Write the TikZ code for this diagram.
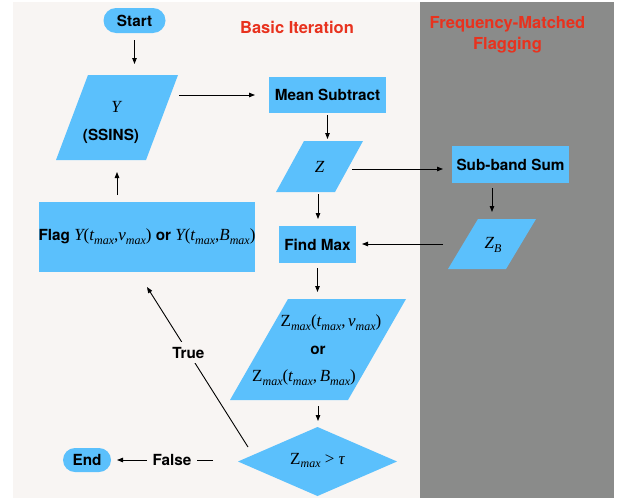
\documentclass[tikz,border=0pt]{standalone}
\usepackage{fontspec}
\setmainfont{TeX Gyre Heros}
\newfontfamily\tms{Liberation Serif}
\usetikzlibrary{shapes.geometric,arrows.meta,calc}
\definecolor{bg}{HTML}{F8F5F3}
\definecolor{panel}{HTML}{8A8B8A}
\definecolor{boxblue}{HTML}{5BC0FC}
\definecolor{titlered}{HTML}{E8321E}
\newcommand\sr{\tms\mdseries\fontsize{17}{20}\selectfont}
\newcommand\mv[1]{{\sr\itshape #1}}
\newcommand\mup[1]{{\sr\upshape #1}}
\newcommand\msub[1]{\raisebox{-0.45ex}{\tms\mdseries\itshape\fontsize{12}{12}\selectfont #1}}
\newcommand\mxsub{\msub{max}}
\newcommand\parafill[2]{\fill[boxblue] ($(#1.north west)+(#2,0)$) -- (#1.north east) -- ($(#1.south east)+(-#2,0)$) -- (#1.south west) -- cycle;}
\begin{document}
\begin{tikzpicture}[x=1pt,y=-1pt,
  lbl/.style={font=\fontsize{15.3}{18}\selectfont\bfseries, text=black, inner sep=0},
  blk/.style={fill=boxblue, inner sep=0, outer sep=0, lbl},
  pgon/.style={inner sep=0, outer sep=0},
  arr/.style={-{Triangle[length=6pt,width=4.5pt]}, line width=0.9pt},
  ttl/.style={font=\fontsize{16.5}{21}\selectfont\bfseries, text=titlered, align=center}]
\useasboundingbox (0,0) rectangle (626,498);
\fill[white] (0,0) rectangle (626,498);
\fill[bg] (13,2) rectangle (420,498);
\fill[panel] (420,2) rectangle (614,498);
\node[ttl] (t1) at (297,27) {Basic Iteration};
\node[ttl] (t2) at (507.5,35) {Frequency-Matched\\Flagging};

% Start
\node[blk, rounded corners=12.5pt, minimum width=62, minimum height=25] (start) at (134.5,20.5) {Start};
% Y
\node[pgon, minimum width=122, minimum height=85] (Y) at (117,117.5) {};
\parafill{Y}{32}
\node[lbl] (ytxt) at ($(Y)+(-1,-10.5)$) {\mv{Y}};
\node[lbl] (ssins) at ($(Y)+(-6,18.5)$) {(SSINS)};
% Mean subtract
\node[blk, minimum width=117, minimum height=36] (mean) at (327.5,95) {Mean Subtract};
% Z
\node[pgon, minimum width=87, minimum height=51] (Z) at (319.5,166.5) {};
\parafill{Z}{28}
\node[lbl] (ztxt) at ($(Z)+(0,0.5)$) {\mv{Z}};
% Sub-band sum
\node[blk, minimum width=117, minimum height=37] (sub) at (510.5,164.5) {Sub-band Sum};
% Z_B
\node[pgon, minimum width=88, minimum height=50] (ZB) at (492,244) {};
\parafill{ZB}{30}
\node[lbl] (zbtxt) at ($(ZB)+(1,1)$) {\mv{Z}\msub{B}};
% Find max
\node[blk, minimum width=77, minimum height=37] (find) at (317.5,244.5) {Find Max};
% Flag
\node[blk, minimum width=212, minimum height=70] (flag) at (147,237) {Flag \mv{Y}\mup{(}\mv{t}\mxsub\mup{,}\mv{ν}\mxsub\mup{)} or \mv{Y}\mup{(}\mv{t}\mxsub\mup{,}\mv{B}\mxsub\mup{)}};
% Zmax
\node[pgon, minimum width=176, minimum height=101] (Zm) at (318,349.5) {};
\parafill{Zm}{58}
\node[lbl] (zm1) at ($(Zm)+(13,-27)$) {\mup{Z}\mxsub\mup{(}\mv{t}\mxsub\mup{,}\,\mv{ν}\mxsub\mup{)}};
\node[lbl] (zmor) at ($(Zm)+(0,1)$) {or};
\node[lbl] (zm2) at ($(Zm)+(-14,28)$) {\mup{Z}\mxsub\mup{(}\mv{t}\mxsub\mup{,}\,\mv{B}\mxsub\mup{)}};
% Diamond
\node[pgon, minimum width=159, minimum height=69] (dia) at (317.5,461.5) {};
\fill[boxblue] (dia.north) -- (dia.east) -- (dia.south) -- (dia.west) -- cycle;
\node[lbl] (diatxt) at ($(dia)+(0,-1)$) {\mup{Z}\mxsub\mup{\ >\ }\mv{τ}};
% End
\node[blk, rounded corners=12pt, minimum width=48, minimum height=24] (end) at (87,460) {End};

% connectors
\draw[arr, shorten <=7pt, shorten >=11pt] (start.south) -- (start.south |- Y.north);
\draw[arr, shorten <=1pt, shorten >=14pt] (Y.east |- mean.west) -- (mean.west);
\draw[arr, shorten <=2pt, shorten >=2pt] (mean.south) -- (mean.south |- Z.north);
\draw[arr, shorten >=9pt] ($(Z.east)+(-11,2.5)$) -- ($(Z.east -| sub.west)+(0,2.5)$);
\draw[arr, shorten <=5pt, shorten >=7pt] (ZB.north |- sub.south) -- (ZB.north);
\draw[arr, shorten <=5pt, shorten >=6pt] (ZB.west) -- (ZB.west -| find.east);
\draw[arr, shorten <=2pt, shorten >=7pt] ($(Z.south)+(-1.5,0)$) -- ($(Z.south |- find.north)+(-1.5,0)$);
\draw[arr, shorten <=7pt, shorten >=12pt] (Y.south |- flag.north) -- (Y.south);
\draw[arr, shorten <=5pt, shorten >=7pt] (find.south) -- (find.south |- Zm.north);
\draw[arr, shorten <=6pt, shorten >=6pt] (Zm.south) -- (Zm.south |- dia.north);
\draw[arr] ($(dia.west)+(10,-14.5)$) -- node[lbl, pos=0.59, fill=bg, inner xsep=1pt, inner ysep=5pt] (true) {True} ($(flag.south)+(0,15)$);
\draw[arr, shorten <=25pt, shorten >=6pt] ($(dia.west)+(0,-1.5)$) -- node[lbl, pos=0.52, fill=bg, inner xsep=6pt, inner ysep=3pt] (false) {False} (end.east);
\end{tikzpicture}
\end{document}
